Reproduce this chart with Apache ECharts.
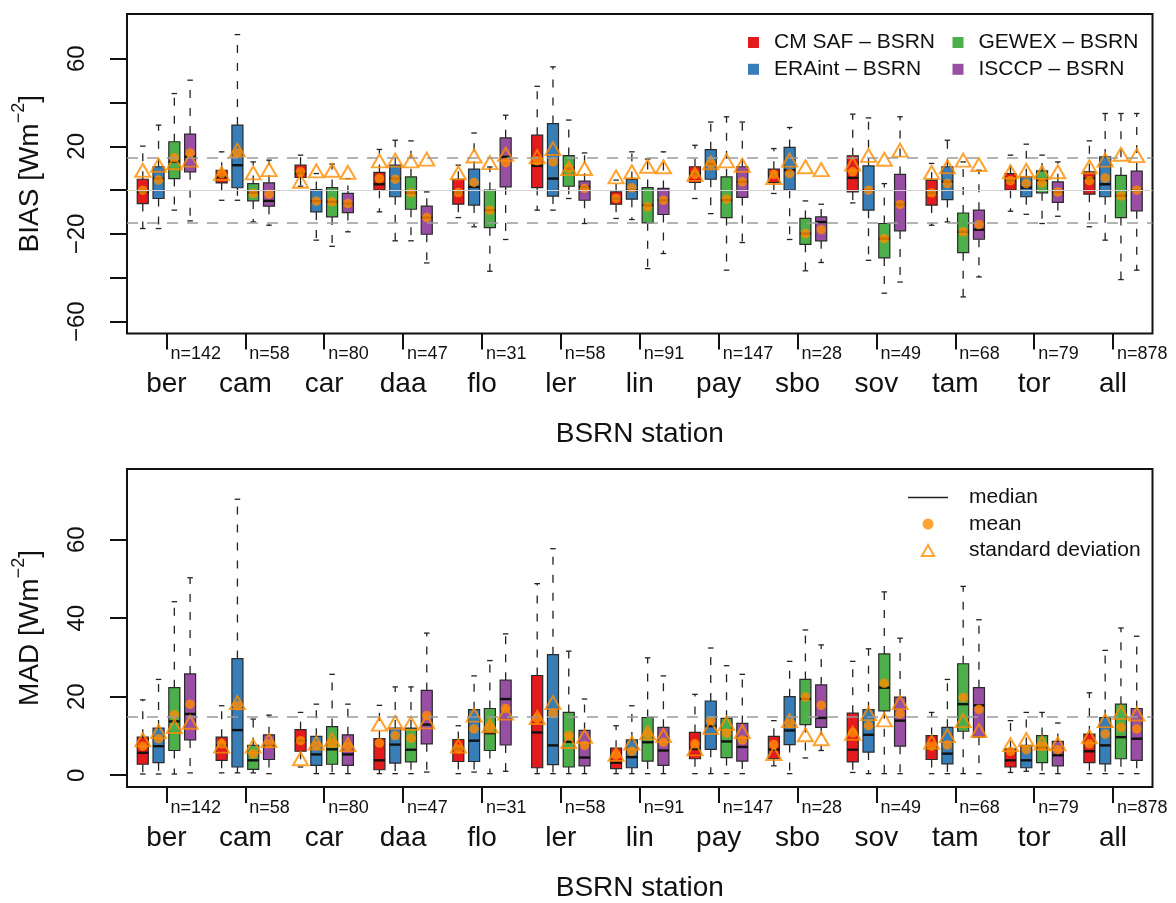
<!DOCTYPE html>
<html>
<head>
<meta charset="utf-8">
<script src="https://cdn.jsdelivr.net/npm/echarts@6/dist/echarts.min.js"></script>
<style>
  html, body { margin: 0; padding: 0; background: #ffffff; }
  #chart { width: 1176px; height: 903px; }
</style>
</head>
<body>
<div id="chart"></div>
<script>
// BSRN stations and number of matched months per station
const stations = ['ber', 'cam', 'car', 'daa', 'flo', 'ler', 'lin', 'pay', 'sbo', 'sov', 'tam', 'tor', 'all'];
const counts = [142, 58, 80, 47, 31, 58, 91, 147, 28, 49, 68, 79, 878];

const datasets = ['CM SAF – BSRN', 'ERAint – BSRN', 'GEWEX – BSRN', 'ISCCP – BSRN'];
const colors = ['#E41A1C', '#377EB8', '#4DAF4A', '#984EA3'];

// Each row: [lower whisker, Q1, median, Q3, upper whisker, mean, standard deviation]
const biasCmsaf = [
  [-17.5, -6.1, -0.8, 5.0, 20.1, 0.0, 9.1],
  [-4.6, 3.3, 6.0, 9.1, 17.5, 7.6, 7.6],
  [1.8, 5.8, 7.6, 11.4, 16.0, 8.4, 4.1],
  [-9.9, 0.0, 2.7, 8.1, 18.6, 5.3, 13.4],
  [-12.5, -6.4, -1.1, 5.0, 11.4, -1.1, 7.9],
  [-9.1, 1.2, 11.1, 25.1, 47.4, 13.4, 15.2],
  [-12.9, -6.4, -3.8, -0.8, 4.6, -3.8, 6.1],
  [-3.8, 3.5, 7.6, 10.7, 20.5, 7.2, 7.2],
  [-1.5, 3.5, 7.2, 9.6, 19.0, 7.2, 5.8],
  [-5.8, -0.8, 5.6, 15.7, 34.7, 8.4, 11.9],
  [-16.0, -6.8, -1.2, 4.6, 12.2, -1.2, 8.1],
  [-9.6, 0.0, 4.3, 7.6, 16.0, 4.3, 8.4],
  [-16.7, -1.8, 5.3, 8.4, 22.5, 4.3, 10.7]
];
const biasEraint = [
  [-17.5, -3.8, 5.3, 10.7, 29.7, 4.6, 11.4],
  [-4.6, 1.1, 11.4, 29.7, 71.0, 17.0, 18.3],
  [-22.8, -9.9, -5.0, 0.3, 7.6, -5.0, 8.8],
  [-23.1, -3.0, 5.3, 11.4, 22.8, 5.0, 13.7],
  [-16.7, -6.8, 1.5, 9.6, 26.1, 3.5, 15.6],
  [-9.1, -2.7, 5.3, 30.4, 56.3, 12.9, 19.0],
  [-13.4, -4.1, 0.0, 4.9, 17.5, 1.1, 8.4],
  [-10.7, 5.0, 12.0, 18.5, 31.1, 12.0, 12.5],
  [-22.5, 0.0, 9.1, 19.5, 28.6, 7.6, 13.7],
  [-32.0, -9.1, 0.0, 11.1, 33.0, 0.0, 15.9],
  [-14.5, -4.3, 3.8, 10.7, 22.8, 3.0, 10.7],
  [-11.0, -3.0, 1.2, 6.1, 21.0, 3.0, 9.1],
  [-22.8, -3.0, 2.7, 15.2, 35.0, 5.6, 13.7]
];
const biasGewex = [
  [-9.1, 5.3, 13.0, 22.1, 44.1, 14.8, 12.5],
  [-14.5, -4.9, -1.2, 3.0, 12.9, -1.5, 7.9],
  [-25.6, -12.2, -5.3, 1.2, 11.9, -5.3, 9.1],
  [-23.1, -8.7, -1.2, 6.1, 22.5, -1.2, 13.4],
  [-37.0, -17.1, -9.1, 0.0, 10.6, -9.1, 12.6],
  [-3.8, 1.8, 9.9, 15.8, 32.0, 9.9, 9.9],
  [-35.8, -14.9, -7.0, 1.2, 14.2, -7.6, 10.9],
  [-36.5, -12.5, -4.5, 6.1, 33.5, -4.1, 13.4],
  [-36.8, -24.7, -19.8, -12.9, -4.9, -19.8, 10.7],
  [-47.0, -30.9, -22.1, -15.2, 3.0, -22.1, 14.1],
  [-48.7, -28.5, -19.0, -10.4, 12.9, -19.0, 13.7],
  [-15.2, -1.2, 4.6, 8.8, 16.0, 3.3, 8.1],
  [-40.8, -12.5, -2.5, 6.8, 35.0, -2.6, 16.4]
];
const biasIsccp = [
  [-14.0, 8.4, 15.2, 25.6, 50.2, 17.0, 13.7],
  [-16.0, -7.3, -4.9, 3.3, 13.7, -1.8, 9.4],
  [-19.0, -10.2, -6.1, -1.5, 5.3, -6.1, 8.1],
  [-33.2, -20.1, -12.5, -7.3, -0.8, -12.5, 14.2],
  [-22.5, 1.5, 15.2, 23.9, 34.2, 12.6, 16.4],
  [-15.2, -4.6, 1.5, 4.1, 17.0, 0.8, 9.9],
  [-28.9, -11.1, -4.6, 0.8, 17.5, -4.6, 10.7],
  [-23.9, -3.3, 3.8, 10.7, 31.1, 3.8, 11.4],
  [-33.0, -23.1, -14.5, -12.2, -6.4, -18.0, 9.4],
  [-41.9, -18.6, -6.5, 7.2, 33.5, -6.5, 18.3],
  [-39.6, -22.4, -18.0, -9.1, 9.1, -15.7, 11.7],
  [-11.9, -5.6, -0.8, 3.8, 12.9, -0.8, 8.4],
  [-36.5, -9.4, 0.0, 8.7, 35.0, 0.0, 15.8]
];

const madCmsaf = [
  [0.3, 2.8, 5.7, 9.7, 19.2, 7.4, 9.0],
  [0.6, 3.8, 7.6, 9.7, 17.7, 8.0, 7.4],
  [2.1, 6.1, 8.8, 11.6, 16.0, 8.8, 4.2],
  [0.4, 1.4, 3.8, 9.3, 17.8, 8.2, 13.0],
  [0.4, 3.5, 6.7, 9.1, 12.6, 6.7, 7.4],
  [0.4, 1.9, 10.9, 25.4, 48.8, 14.5, 14.7],
  [0.4, 1.7, 3.2, 6.9, 12.6, 5.1, 5.3],
  [0.4, 4.2, 6.7, 10.9, 20.6, 8.0, 6.7],
  [2.4, 4.2, 6.5, 9.9, 13.9, 7.8, 5.5],
  [0.7, 3.4, 6.5, 15.8, 29.0, 10.8, 10.7],
  [0.4, 4.0, 6.7, 10.1, 16.0, 7.4, 8.4],
  [0.7, 2.1, 3.8, 6.7, 13.9, 6.1, 7.8],
  [0.4, 3.2, 6.1, 10.5, 21.0, 8.0, 9.8]
];
const madEraint = [
  [0.3, 3.2, 7.4, 12.0, 24.4, 9.3, 11.1],
  [0.6, 2.1, 11.5, 29.7, 70.3, 17.7, 18.5],
  [0.4, 2.5, 5.3, 9.9, 18.1, 7.6, 8.2],
  [0.4, 3.1, 7.8, 12.0, 22.5, 10.1, 13.5],
  [0.8, 3.5, 8.8, 16.7, 25.3, 11.8, 15.3],
  [0.4, 2.7, 7.6, 30.7, 57.7, 15.7, 18.5],
  [0.4, 1.9, 4.6, 9.0, 17.7, 6.1, 8.2],
  [0.4, 6.6, 12.5, 18.9, 32.4, 13.9, 12.2],
  [0.4, 7.8, 11.4, 20.0, 29.0, 13.2, 13.9],
  [0.4, 5.9, 10.3, 16.7, 32.2, 12.6, 15.7],
  [0.4, 2.9, 5.5, 12.2, 24.4, 7.7, 10.1],
  [1.0, 1.9, 3.8, 7.6, 16.0, 6.5, 9.1],
  [0.4, 2.9, 7.6, 14.7, 31.8, 10.5, 13.9]
];
const madGewex = [
  [0.3, 6.3, 13.7, 22.3, 44.2, 15.4, 12.4],
  [0.6, 1.5, 3.8, 7.6, 14.3, 5.5, 7.4],
  [0.4, 2.8, 6.6, 12.4, 25.7, 8.2, 9.0],
  [0.4, 3.4, 6.5, 12.0, 22.5, 9.4, 13.2],
  [0.4, 6.3, 10.7, 17.0, 29.2, 12.2, 12.6],
  [0.4, 2.1, 8.5, 16.0, 31.6, 10.1, 8.6],
  [0.4, 3.6, 8.4, 14.7, 29.9, 10.5, 10.8],
  [0.4, 4.5, 8.6, 14.5, 27.9, 10.7, 13.2],
  [4.4, 12.9, 19.5, 24.4, 37.0, 19.9, 10.3],
  [0.4, 16.4, 22.3, 30.9, 46.7, 23.4, 14.1],
  [0.4, 11.2, 18.1, 28.4, 48.1, 19.8, 13.9],
  [0.4, 3.2, 7.0, 10.1, 16.0, 7.4, 8.2],
  [0.4, 4.2, 9.7, 18.1, 37.5, 12.2, 16.0]
];
const madIsccp = [
  [0.6, 9.0, 15.6, 25.8, 50.3, 18.1, 13.5],
  [0.4, 4.0, 7.5, 10.3, 15.3, 8.0, 8.8],
  [0.4, 2.5, 5.3, 10.3, 18.1, 7.4, 7.8],
  [0.8, 8.0, 12.9, 21.6, 36.2, 15.2, 13.6],
  [1.0, 7.7, 19.4, 24.2, 36.0, 17.0, 15.8],
  [0.4, 2.4, 4.5, 11.4, 19.4, 7.6, 9.9],
  [0.4, 2.5, 6.3, 12.2, 25.3, 8.4, 10.1],
  [0.4, 3.6, 7.2, 13.2, 25.7, 9.0, 11.1],
  [6.3, 12.2, 14.6, 23.0, 33.2, 17.8, 9.3],
  [0.4, 7.4, 13.9, 19.9, 34.9, 15.6, 18.5],
  [0.4, 9.7, 17.8, 22.3, 39.6, 16.8, 11.4],
  [0.4, 2.4, 5.1, 8.6, 13.3, 6.5, 8.0],
  [0.4, 3.8, 9.3, 17.0, 35.4, 11.8, 15.6]
];

const biasTicks = [-60, -40, -20, 0, 20, 40, 60];
const biasTickLabels = [-60, -20, 20, 60];
const madTicks = [0, 20, 40, 60];
const biasRefLines = [-15, 15];
const madRefLines = [15];

const FONT = '"Liberation Sans", Arial, Helvetica, sans-serif';
const ORANGE = '#FF8C00';
const INK = '#111111';
const BOX_W = 0.7;      // box width in slot units
const SLOTS = 5;        // four boxes plus one gap per station

const panels = [
  { rows: [biasCmsaf, biasEraint, biasGewex, biasIsccp], title: 'BIAS', min: -65.4, max: 80.4,
    ticks: biasTicks, labels: biasTickLabels, refs: biasRefLines, zero: true },
  { rows: [madCmsaf, madEraint, madGewex, madIsccp], title: 'MAD', min: -3, max: 78,
    ticks: madTicks, labels: madTicks, refs: madRefLines, zero: false }
];

const groupCenters = stations.map((_, s) => s * SLOTS + 2.5);
const slotOf = (s, d) => s * SLOTS + d + 1;

function renderBox(params, api) {
  const x = api.value(0);
  const lo = api.coord([x, api.value(1)]);
  const q1 = api.coord([x, api.value(2)]);
  const md = api.coord([x, api.value(3)]);
  const q3 = api.coord([x, api.value(4)]);
  const hi = api.coord([x, api.value(5)]);
  const w = api.size([BOX_W, 0])[0];
  const cx = md[0];
  const whisker = { stroke: '#222', lineWidth: 1.3, lineDash: [8, 10] };
  const staple = { stroke: '#222', lineWidth: 1.3 };
  return {
    type: 'group',
    children: [
      { type: 'line', shape: { x1: cx, y1: q3[1], x2: cx, y2: hi[1] }, style: whisker },
      { type: 'line', shape: { x1: cx, y1: q1[1], x2: cx, y2: lo[1] }, style: whisker },
      { type: 'line', shape: { x1: cx - w / 4, y1: hi[1], x2: cx + w / 4, y2: hi[1] }, style: staple },
      { type: 'line', shape: { x1: cx - w / 4, y1: lo[1], x2: cx + w / 4, y2: lo[1] }, style: staple },
      { type: 'rect', shape: { x: cx - w / 2, y: q3[1], width: w, height: q1[1] - q3[1] },
        style: { fill: api.visual('color'), stroke: '#2a2a2a', lineWidth: 1.2 } },
      { type: 'line', shape: { x1: cx - w / 2, y1: md[1], x2: cx + w / 2, y2: md[1] },
        style: { stroke: INK, lineWidth: 2.4 } }
    ]
  };
}

const grids = [
  { left: 127, right: 23.5, top: 14, height: 319.5 },
  { left: 127, right: 23.5, top: 469, height: 318 }
].map(g => Object.assign(g, { show: true, borderColor: INK, borderWidth: 2, backgroundColor: 'transparent', containLabel: false }));

const xAxes = [];
const yAxes = [];
const series = [];

panels.forEach((p, pi) => {
  // tick marks with sample counts
  xAxes.push({
    type: 'value', gridIndex: pi, min: 0, max: 65, position: 'bottom',
    axisLine: { show: false, onZero: false }, splitLine: { show: false },
    axisTick: { show: true, length: 16, customValues: groupCenters, lineStyle: { color: INK, width: 2 } },
    axisLabel: {
      show: true, customValues: groupCenters, margin: 12, align: 'left', padding: [0, 0, 0, 4],
      fontFamily: FONT, fontSize: 18, lineHeight: 18, color: INK,
      formatter: v => 'n=' + counts[Math.round((v - 2.5) / SLOTS)]
    }
  });
  // station names and axis title
  xAxes.push({
    type: 'value', gridIndex: pi, min: 0, max: 65, position: 'bottom',
    axisLine: { show: false, onZero: false }, splitLine: { show: false }, axisTick: { show: false },
    axisLabel: {
      show: true, customValues: groupCenters, margin: 37,
      fontFamily: FONT, fontSize: 28, lineHeight: 28, color: INK,
      formatter: v => stations[Math.round((v - 2.5) / SLOTS)]
    },
    name: 'BSRN station', nameLocation: 'middle', nameGap: 87,
    nameTextStyle: { fontFamily: FONT, fontSize: 28, lineHeight: 28, color: INK }
  });
  yAxes.push({
    type: 'value', gridIndex: pi, min: p.min, max: p.max,
    axisLine: { show: false, onZero: false }, splitLine: { show: false },
    axisTick: { show: true, length: 17, customValues: p.ticks, lineStyle: { color: INK, width: 2 } },
    axisLabel: {
      show: true, customValues: p.labels, rotate: 90, margin: 38,
      fontFamily: FONT, fontSize: 24, lineHeight: 24, color: INK,
      formatter: v => (v < 0 ? '\u2212' + Math.abs(v) : String(v))
    },
    name: '{t|' + p.title + ' [Wm}{s|\u22122}{t|]}', nameLocation: 'middle', nameGap: 83,
    nameTextStyle: {
      fontFamily: FONT, color: INK,
      rich: {
        t: { fontFamily: FONT, fontSize: 28, lineHeight: 34, color: INK, verticalAlign: 'bottom' },
        s: { fontFamily: FONT, fontSize: 18, lineHeight: 34, color: INK, verticalAlign: 'top' }
      }
    }
  });

  // reference lines
  const refData = p.refs.map(v => ({ yAxis: v, lineStyle: { color: '#9a9a9a', width: 1.5, type: [11, 9] } }));
  if (p.zero) refData.unshift({ yAxis: 0, lineStyle: { color: '#d2d2d2', width: 1, type: 'solid' } });
  series.push({
    type: 'line', xAxisIndex: pi * 2, yAxisIndex: pi, data: [], silent: true, z: 1,
    markLine: { silent: true, symbol: 'none', label: { show: false }, animation: false, data: refData }
  });

  // boxes
  p.rows.forEach((rows, d) => {
    series.push({
      type: 'custom', name: datasets[d], color: colors[d], xAxisIndex: pi * 2, yAxisIndex: pi, z: 2,
      renderItem: renderBox,
      encode: { x: 0, y: [1, 2, 3, 4, 5] },
      data: rows.map((r, s) => [slotOf(s, d), r[0], r[1], r[2], r[3], r[4]])
    });
  });

  // means and standard deviations
  const means = [];
  const sds = [];
  p.rows.forEach((rows, d) => rows.forEach((r, s) => {
    means.push([slotOf(s, d), r[5]]);
    sds.push([slotOf(s, d), r[6]]);
  }));
  series.push({
    type: 'scatter', name: 'mean', xAxisIndex: pi * 2, yAxisIndex: pi, z: 3,
    symbol: 'circle', symbolSize: 9.5, itemStyle: { color: ORANGE }, data: means
  });
  series.push({
    type: 'scatter', name: 'standard deviation', xAxisIndex: pi * 2, yAxisIndex: pi, z: 4,
    symbol: 'triangle', symbolSize: [15, 13],
    itemStyle: { color: 'transparent', borderColor: ORANGE, borderWidth: 2 }, data: sds
  });
});

// legend-only series for the median line
series.push({ type: 'line', name: 'median', xAxisIndex: 2, yAxisIndex: 1, data: [], color: '#222222' });

const squareIcon = 'path://M0,0H10V10H0Z';
const legendText = { fontFamily: FONT, fontSize: 21, lineHeight: 21, color: INK };

const option = {
  animation: false,
  backgroundColor: '#ffffff',
  textStyle: { fontFamily: FONT },
  grid: grids,
  xAxis: xAxes,
  yAxis: yAxes,
  legend: [
    { data: datasets.slice(0, 2), orient: 'vertical', left: 748, top: 32, padding: 0, itemWidth: 31, itemHeight: 11,
      itemGap: 5.8, icon: squareIcon, symbolKeepAspect: true, textStyle: legendText,
      itemStyle: { borderWidth: 0 }, selectedMode: false },
    { data: datasets.slice(2, 4), orient: 'vertical', left: 952.5, top: 32, padding: 0, itemWidth: 31, itemHeight: 11,
      itemGap: 5.8, icon: squareIcon, symbolKeepAspect: true, textStyle: legendText,
      itemStyle: { borderWidth: 0 }, selectedMode: false },
    { orient: 'vertical', left: 908, top: 487, padding: 0, itemWidth: 40, itemHeight: 11, itemGap: 5.5,
      symbolKeepAspect: true,
      textStyle: Object.assign({ padding: [0, 0, 0, 16] }, legendText), selectedMode: false,
      data: [
        { name: 'median', icon: 'path://M0,0H40V1.6H0Z', itemStyle: { color: '#222222', borderWidth: 0 } },
        { name: 'mean', icon: 'circle', itemStyle: { color: ORANGE, borderWidth: 0 } },
        { name: 'standard deviation', icon: 'path://M5,0L10,9L0,9Z',
          itemStyle: { color: 'transparent', borderColor: ORANGE, borderWidth: 2 } }
      ] }
  ],
  series: series
};

const chart = echarts.init(document.getElementById('chart'), null, { renderer: 'canvas' });
chart.setOption(option);
</script>
</body>
</html>
